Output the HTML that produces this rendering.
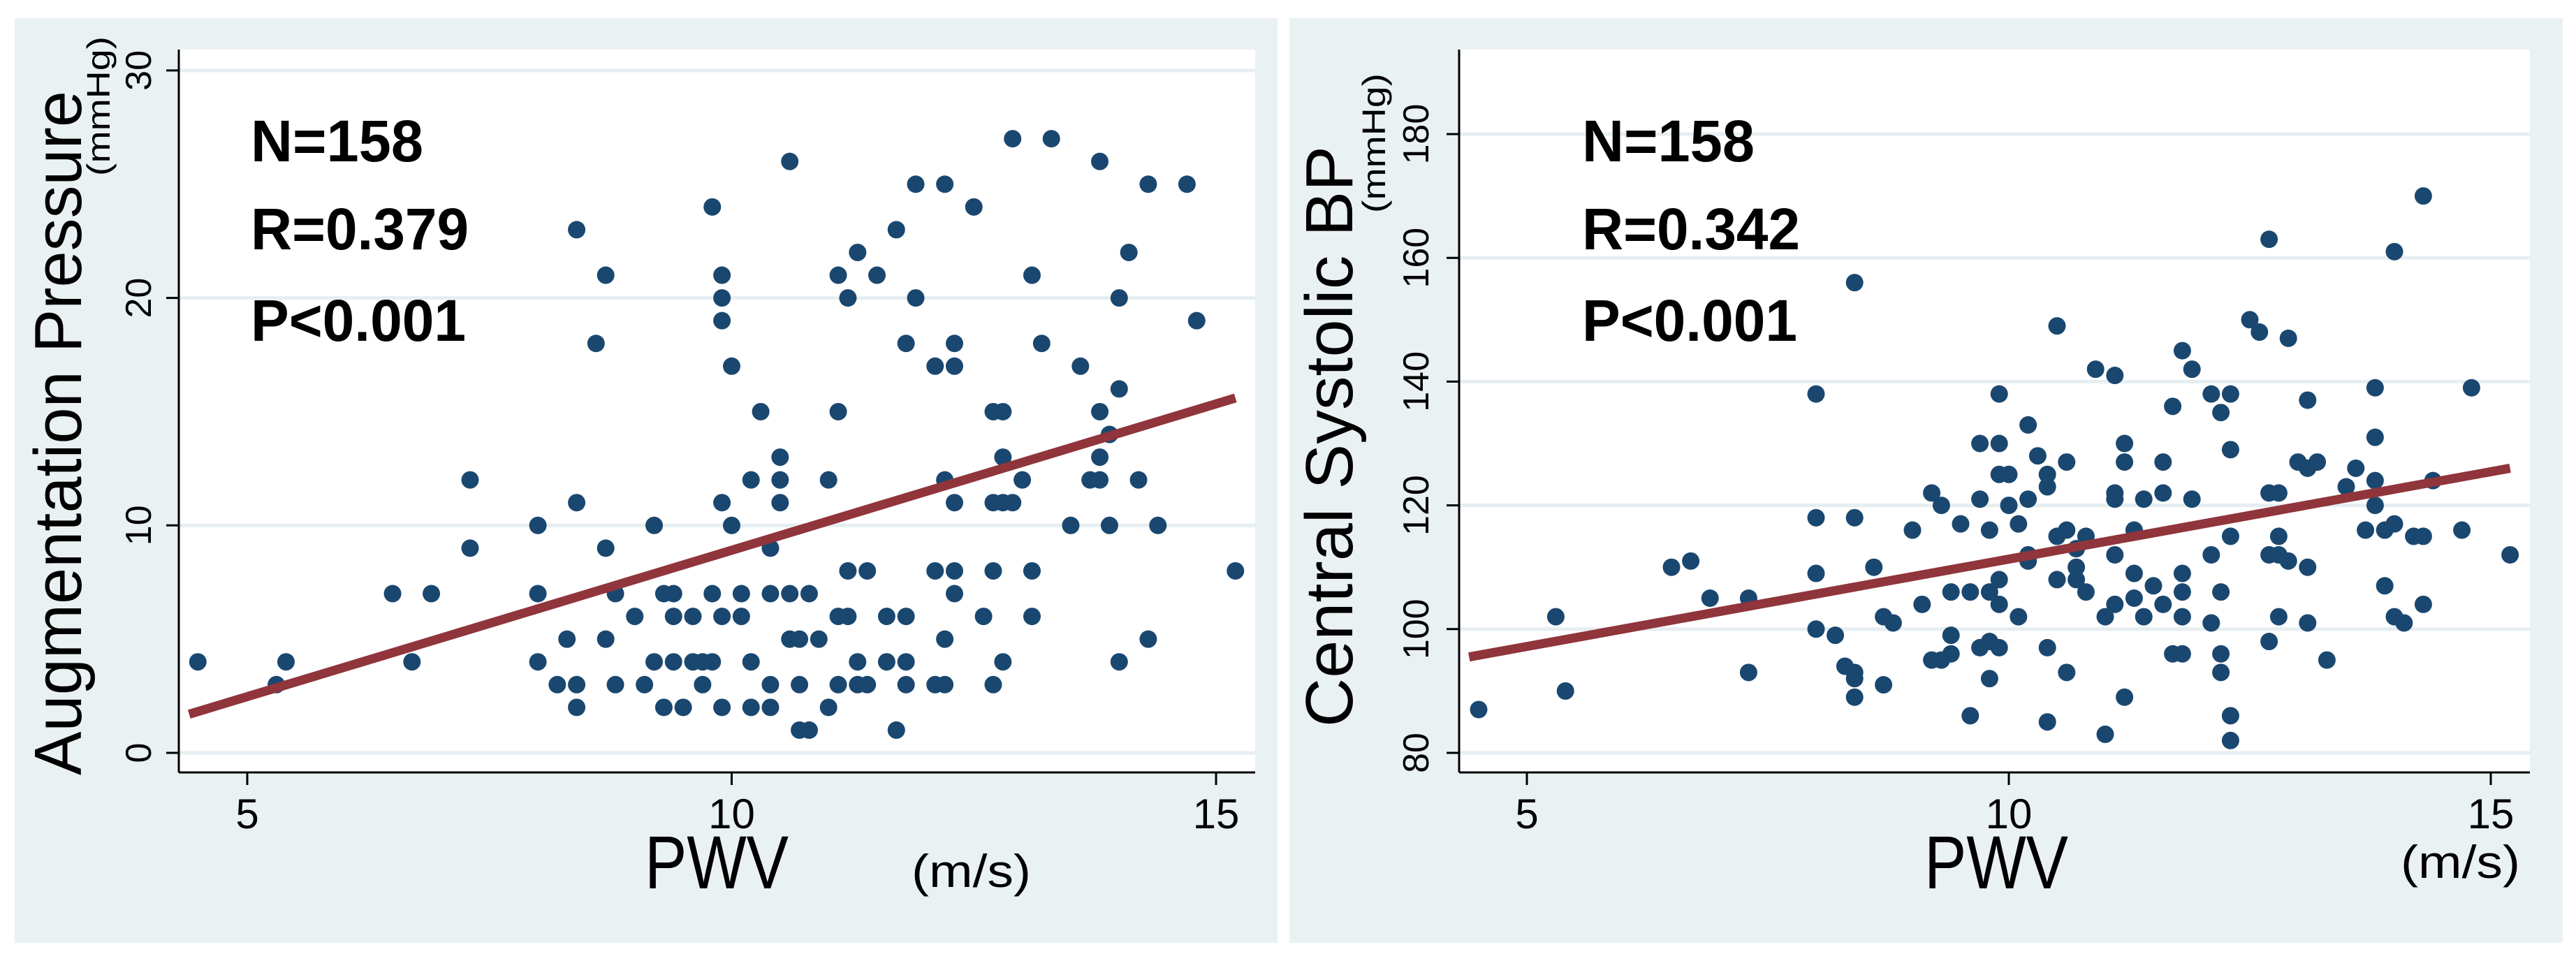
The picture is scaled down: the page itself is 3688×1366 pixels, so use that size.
<!DOCTYPE html>
<html><head><meta charset="utf-8"><style>
html,body{margin:0;padding:0;background:#fff;}
svg{display:block;font-family:"Liberation Sans",sans-serif;}
</style></head><body>
<svg id="fig" width="3688" height="1366" viewBox="0 0 3688 1366" xmlns="http://www.w3.org/2000/svg">
<rect x="21" y="26" width="1808" height="1324" fill="#eaf1f3"/>
<rect x="1846" y="26" width="1823" height="1324" fill="#eaf1f3"/>
<g id="left"></g>
<g id="right"></g>
</svg>
<script>
const leftX=[4.49,5.3,5.4,6.5,6.7,6.9,7.3,7.3,8.0,8.0,8.0,8.2,8.3,8.4,8.4,8.4,8.4,8.6,8.7,8.7,8.7,8.8,8.8,9.0,9.1,9.2,9.2,9.3,9.3,9.4,9.4,9.4,9.5,9.6,9.6,9.7,9.7,9.8,9.8,9.8,9.9,9.9,9.9,9.9,9.9,9.9,10.0,10.0,10.1,10.1,10.2,10.2,10.2,10.3,10.4,10.4,10.4,10.4,10.5,10.5,10.5,10.6,10.6,10.6,10.7,10.7,10.7,10.8,10.8,10.9,11.0,11.0,11.1,11.1,11.1,11.1,11.2,11.2,11.2,11.3,11.3,11.3,11.4,11.4,11.5,11.6,11.6,11.7,11.7,11.8,11.8,11.8,11.8,11.9,11.9,12.1,12.1,12.1,12.2,12.2,12.2,12.2,12.3,12.3,12.3,12.3,12.3,12.5,12.6,12.7,12.7,12.7,12.7,12.8,12.8,12.8,12.8,12.9,12.9,13.0,13.1,13.1,13.1,13.2,13.3,13.5,13.6,13.7,13.8,13.8,13.8,13.8,13.9,13.9,14.0,14.0,14.0,14.1,14.2,14.3,14.3,14.4,14.7,14.8,15.2];
const leftY=[4,3,4,7,4,7,12,9,10,7,4,3,5,23,11,3,2,18,21,9,5,7,3,6,3,10,4,7,2,7,6,4,2,6,4,4,3,24,7,4,21,20,19,11,6,2,17,10,7,6,12,4,2,15,9,7,3,2,13,12,11,26,7,5,5,3,1,7,1,5,12,2,21,15,6,3,20,8,6,22,4,3,8,3,21,6,4,23,1,18,6,4,3,25,20,17,8,3,25,12,5,3,18,17,11,8,7,24,6,15,11,8,3,15,13,11,4,27,11,12,21,8,6,18,27,10,17,12,26,15,13,12,14,10,20,16,4,22,12,25,5,10,25,19,8];
const rightX=[4.5,5.3,5.4,6.5,6.7,6.9,7.3,7.3,8.0,8.0,8.0,8.0,8.2,8.3,8.4,8.4,8.4,8.4,8.4,8.6,8.7,8.7,8.8,9.0,9.1,9.2,9.2,9.3,9.3,9.4,9.4,9.4,9.5,9.6,9.6,9.7,9.7,9.7,9.8,9.8,9.8,9.8,9.9,9.9,9.9,9.9,9.9,9.9,10.0,10.0,10.1,10.1,10.2,10.2,10.2,10.2,10.3,10.4,10.4,10.4,10.4,10.5,10.5,10.5,10.6,10.6,10.6,10.7,10.7,10.7,10.8,10.8,10.9,11.0,11.0,11.1,11.1,11.1,11.1,11.1,11.2,11.2,11.2,11.3,11.3,11.3,11.4,11.4,11.5,11.6,11.6,11.6,11.7,11.7,11.8,11.8,11.8,11.8,11.8,11.9,11.9,12.1,12.1,12.1,12.2,12.2,12.2,12.2,12.3,12.3,12.3,12.3,12.3,12.5,12.6,12.7,12.7,12.7,12.7,12.8,12.8,12.8,12.8,12.9,12.9,13.0,13.1,13.1,13.1,13.1,13.2,13.3,13.5,13.6,13.7,13.8,13.8,13.8,13.8,13.9,13.9,14.0,14.0,14.0,14.1,14.2,14.3,14.3,14.3,14.4,14.7,14.8,15.2];
const rightY=[87,102,90,110,111,105,105,93,138,118,109,100,99,94,156,118,93,92,89,110,102,91,101,116,104,122,95,120,95,106,99,96,117,106,86,130,121,97,116,106,98,92,138,130,125,108,104,97,125,120,117,102,133,121,112,111,128,125,123,97,85,149,115,108,127,116,93,113,110,108,115,106,142,102,83,141,122,121,112,104,130,127,89,116,109,105,121,102,107,127,122,104,136,96,145,109,106,102,96,142,121,138,112,101,135,106,96,93,138,129,115,86,82,150,148,163,122,112,98,122,115,112,102,147,111,127,137,126,110,101,127,95,123,126,116,139,131,124,120,116,107,161,117,102,101,115,170,115,104,124,116,139,112];
const leftLineX=[4.4,15.2], leftLineY=[1.7,15.6];
const rightLineX=[4.4,15.2], rightLineY=[95.5,126];
const xTicks=[5,10,15];
const leftYTicks=[0,10,20,30];
const rightYTicks=[80,100,120,140,160,180];
const leftStats=["N=158","R=0.379","P<0.001"];
const rightStats=["N=158","R=0.342","P<0.001"];

const NS="http://www.w3.org/2000/svg";
function mk(parent,tag,attrs,text){const e=document.createElementNS(NS,tag);for(const k in attrs)e.setAttribute(k,attrs[k]);if(text!==undefined)e.textContent=text;parent.appendChild(e);return e;}

function chart(g,cfg){
  const sx=v=>cfg.x0px+(v-5)*cfg.xpu;
  const sy=v=>cfg.y0px-(v-cfg.ymin)*cfg.ypu;
  const pa=mk(g,'rect',{x:cfg.pl,y:71,width:cfg.pr-cfg.pl,height:1106-71,fill:'#fff'});
  
  
  cfg.yt.forEach(t=>{
    const gl=mk(g,'line',{x1:cfg.pl,x2:cfg.pr,y1:sy(t),y2:sy(t),stroke:'#e6eef1','stroke-width':5});
    
    
    const tk=mk(g,'line',{x1:cfg.pl-18,x2:cfg.pl,y1:sy(t),y2:sy(t),stroke:'#000','stroke-width':3});
    
    
    const lb=mk(g,'text',{x:0,y:0,transform:`translate(${cfg.ytx},${sy(t)}) rotate(-90)`,'text-anchor':'middle','font-size':52,fill:'#000'},String(t));
    
    
  });
  xTicks.forEach(t=>{
    const tk=mk(g,'line',{x1:sx(t),x2:sx(t),y1:1106,y2:1124,stroke:'#000','stroke-width':3});
    
    
    const lb=mk(g,'text',{x:sx(t),y:1186,'text-anchor':'middle','font-size':60,fill:'#000'},String(t));
    
    
  });
  const ya=mk(g,'line',{x1:cfg.pl,x2:cfg.pl,y1:71,y2:1106,stroke:'#000','stroke-width':3});
  
  
  const xa=mk(g,'line',{x1:cfg.pl,x2:cfg.pr,y1:1106,y2:1106,stroke:'#000','stroke-width':3});
  
  
  cfg.xs.forEach((v,i)=>{
    const c=mk(g,'circle',{cx:sx(v),cy:sy(cfg.ys[i]),r:12.5,fill:'#1a476f'});
    
    
  });
  const fl=mk(g,'line',{x1:sx(cfg.lx[0]),y1:sy(cfg.ly[0]),x2:sx(cfg.lx[1]),y2:sy(cfg.ly[1]),stroke:'#90353b','stroke-width':13});
  
  
  const bl=[231,357,488], wl=[247,312,308];
  cfg.stats.forEach((s,i)=>{
    const t=mk(g,'text',{x:cfg.stx,y:bl[i],'font-size':84,'font-weight':'bold',textLength:wl[i],lengthAdjust:'spacingAndGlyphs',fill:'#000'},s);
    
    
  });
  const tt=mk(g,'text',{x:0,y:0,transform:`translate(${cfg.ttx},${cfg.tty0}) rotate(-90)`,'font-size':96,textLength:cfg.ttl,lengthAdjust:'spacingAndGlyphs',fill:'#000','xml:space':'preserve'},cfg.title);
  
  
  const un=mk(g,'text',{x:0,y:0,transform:`translate(${cfg.utx},${cfg.uty0}) rotate(-90)`,'font-size':46,textLength:200,lengthAdjust:'spacingAndGlyphs',fill:'#000'},'(mmHg)');
  
  
  const pw=mk(g,'text',{x:cfg.pwx,y:1272,'font-size':108,textLength:206,lengthAdjust:'spacingAndGlyphs',fill:'#000'},'PWV');
  
  
  const ms=mk(g,'text',{x:cfg.msx,y:cfg.msy,'font-size':66,textLength:171,lengthAdjust:'spacingAndGlyphs',fill:'#000'},'(m/s)');
  
  
}
chart(document.getElementById('left'),{pl:256,pr:1797,x0px:354,xpu:138.7,y0px:1078,ymin:0,ypu:32.57,yt:leftYTicks,ytx:216,xs:leftX,ys:leftY,lx:leftLineX,ly:leftLineY,stats:leftStats,stx:359,title:'Augmentation  Pressure',ttx:116,tty0:1110,ttl:980,utx:157,uty0:252,pwx:923,msx:1305,msy:1270});
chart(document.getElementById('right'),{pl:2089,pr:3622,x0px:2186,xpu:138,y0px:1078,ymin:80,ypu:8.86,yt:rightYTicks,ytx:2045,xs:rightX,ys:rightY,lx:rightLineX,ly:rightLineY,stats:rightStats,stx:2265,title:'Central  Systolic  BP',ttx:1936,tty0:1041,ttl:832,utx:1983,uty0:305,pwx:2755,msx:3437,msy:1257});
</script>
</body></html>
